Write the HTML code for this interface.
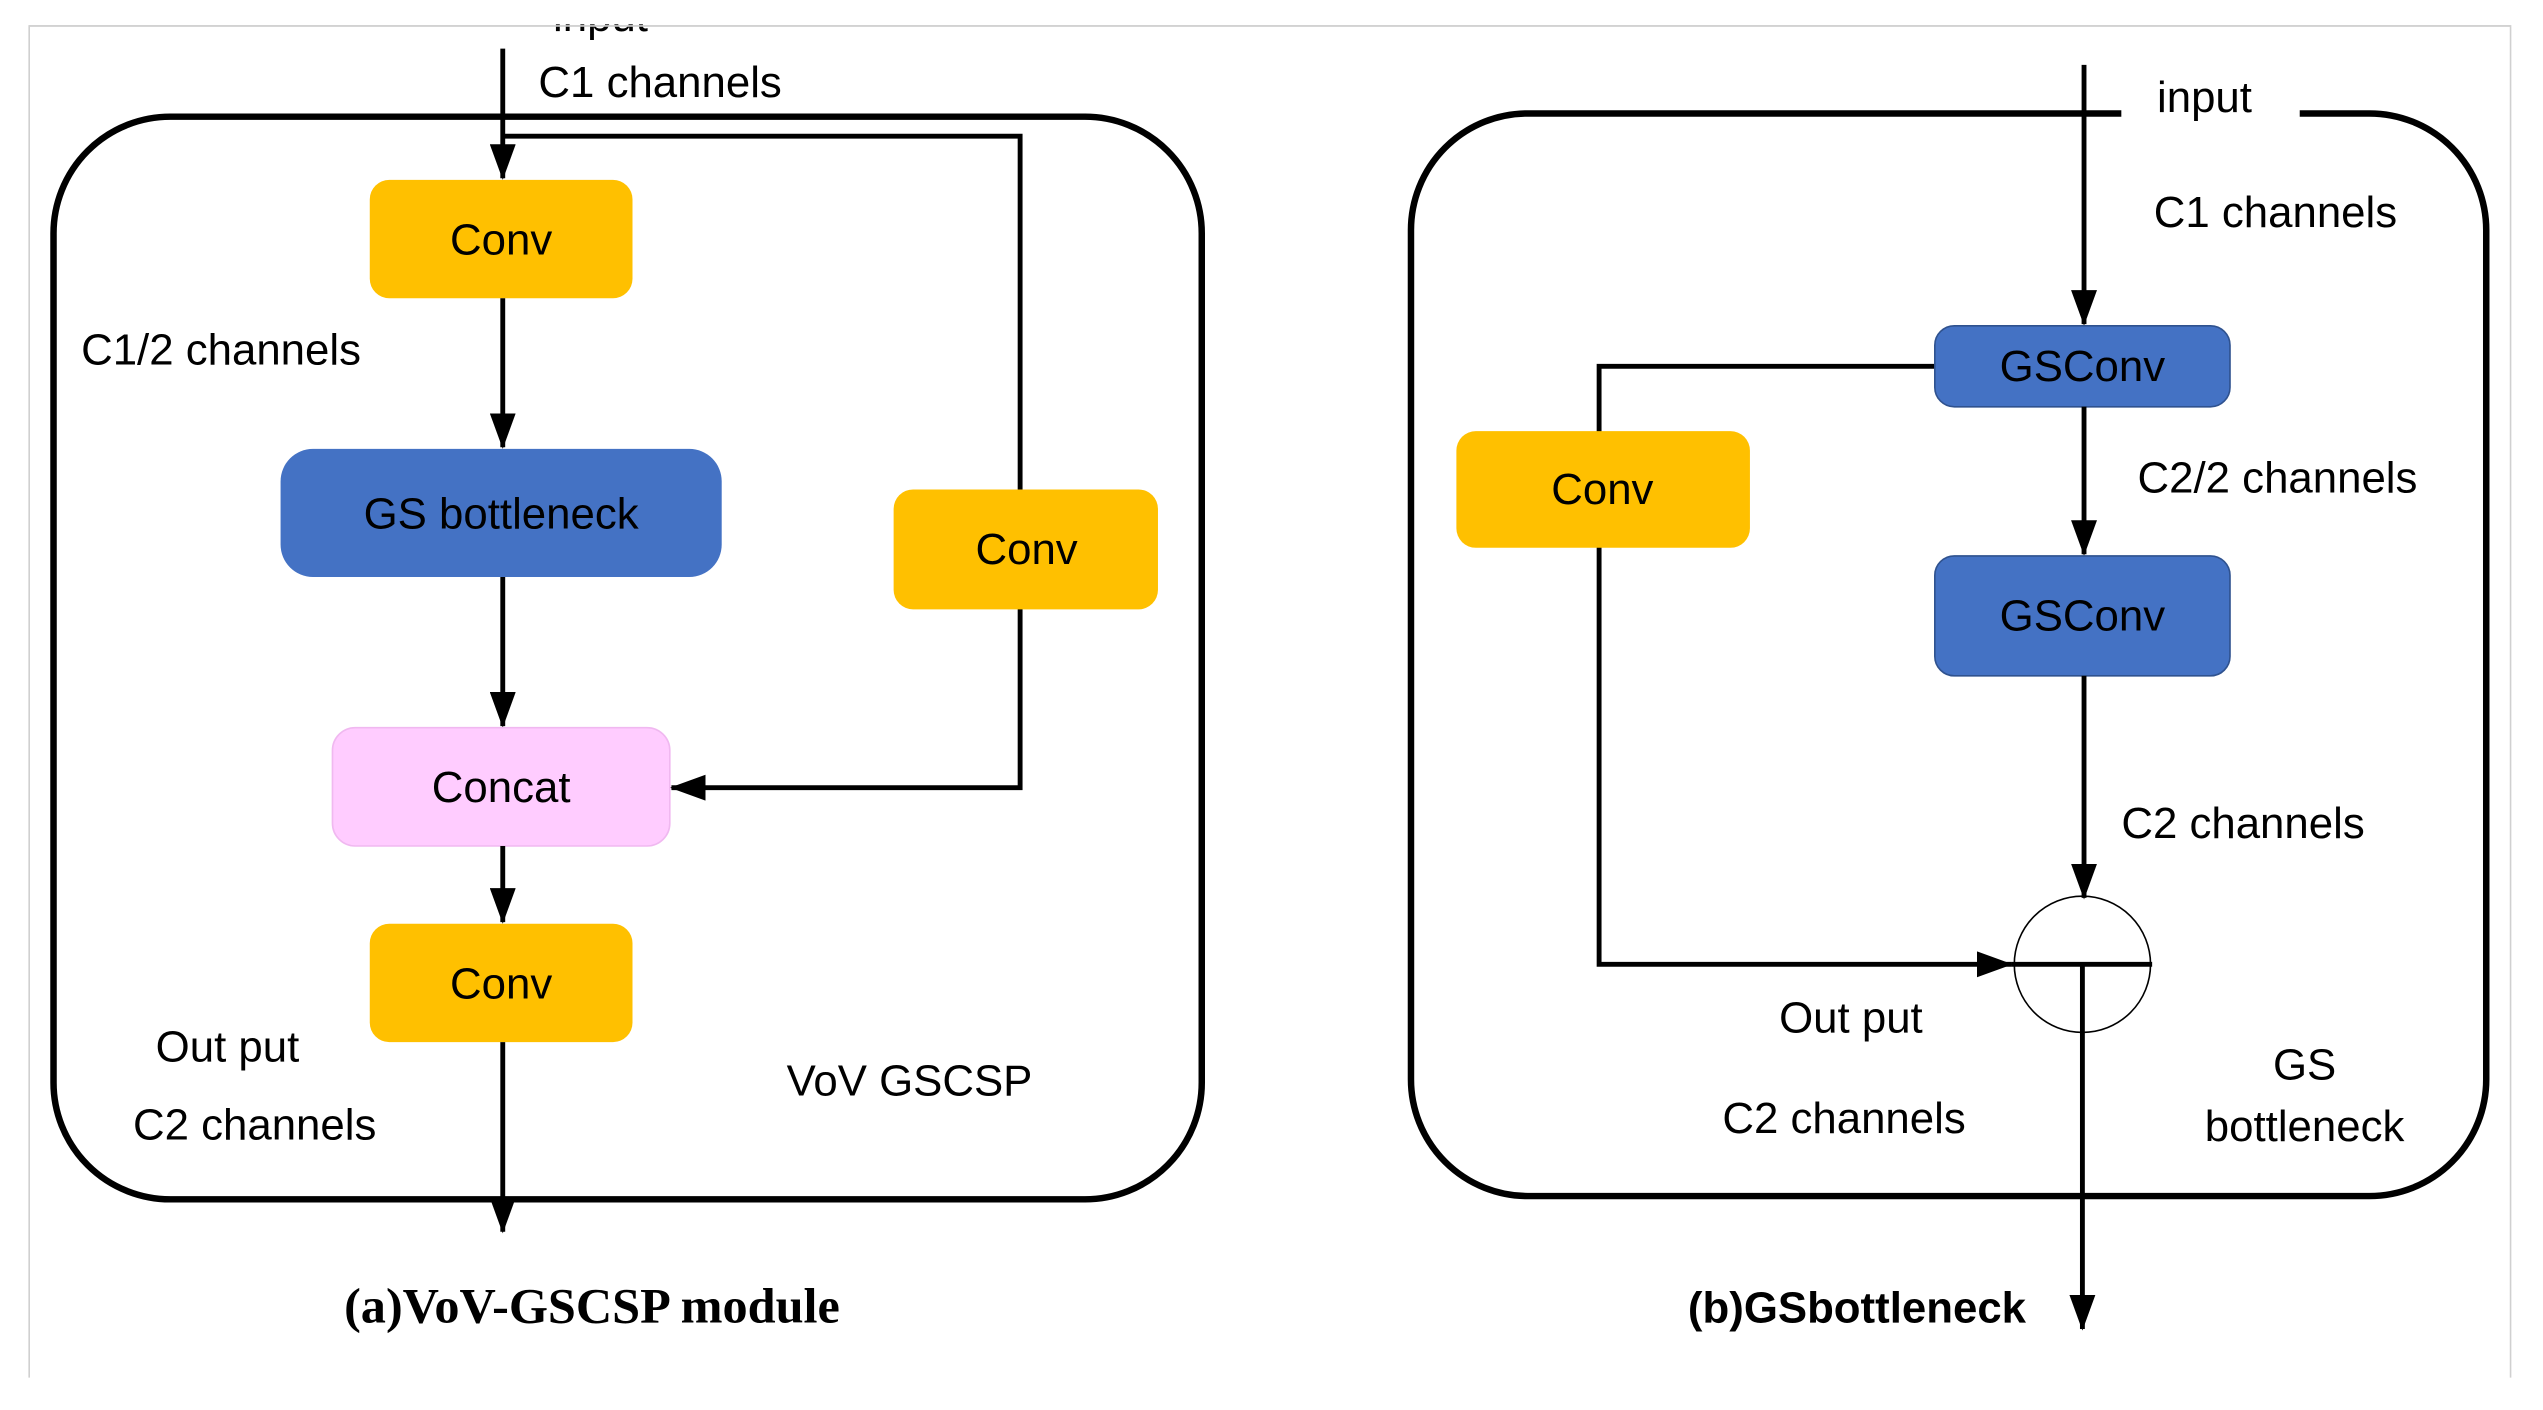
<!DOCTYPE html>
<html><head><style>html,body{margin:0;padding:0;background:#fff}svg{display:block}
text{font-family:"Liberation Sans",sans-serif;font-size:27px;fill:#000}</style></head>
<body>
<svg width="2543" height="1410" viewBox="0 0 1568 870" preserveAspectRatio="none" xmlns="http://www.w3.org/2000/svg">
<defs><marker id="b" markerWidth="22" markerHeight="16" refX="21" refY="8" orient="auto" markerUnits="userSpaceOnUse"><path d="M0,0 L22,8 L0,16 Z" fill="#000"/></marker></defs>
<path d="M18,850 V16 H1548 V850" fill="none" stroke="#d0d0d0" stroke-width="1"/>
<!-- left panel -->
<rect x="33" y="72" width="708" height="668" rx="72" fill="none" stroke="#000" stroke-width="4"/>
<text x="341" y="19">input</text>
<rect x="0" y="0" width="1568" height="15" fill="#fff"/>
<path d="M18,16 H1548" stroke="#d0d0d0" stroke-width="1"/>
<text x="332" y="60">C1 channels</text>
<line x1="310" y1="30" x2="310" y2="110" stroke="#000" stroke-width="3" marker-end="url(#b)" />
<polyline points="310,84 629,84 629,486 414,486" fill="none" stroke="#000" stroke-width="3" marker-end="url(#b)"/>
<rect x="228" y="111" width="162" height="73" rx="12" fill="#FFC000"/>
<text x="309" y="157" text-anchor="middle">Conv</text>
<text x="50" y="225">C1/2 channels</text>
<line x1="310" y1="184" x2="310" y2="276" stroke="#000" stroke-width="3" marker-end="url(#b)"/>
<rect x="173" y="277" width="272" height="79" rx="20" fill="#4472C4"/>
<text x="309" y="326" text-anchor="middle">GS bottleneck</text>
<rect x="551" y="302" width="163" height="74" rx="12" fill="#FFC000"/>
<text x="633" y="348" text-anchor="middle">Conv</text>
<line x1="310" y1="356" x2="310" y2="448" stroke="#000" stroke-width="3" marker-end="url(#b)"/>
<rect x="205" y="449" width="208" height="73" rx="14" fill="#FFCCFF" stroke="#f0b8f0"/>
<text x="309" y="495" text-anchor="middle">Concat</text>
<line x1="310" y1="522" x2="310" y2="569" stroke="#000" stroke-width="3" marker-end="url(#b)"/>
<rect x="228" y="570" width="162" height="73" rx="12" fill="#FFC000"/>
<text x="309" y="616" text-anchor="middle">Conv</text>
<line x1="310" y1="643" x2="310" y2="760" stroke="#000" stroke-width="3" marker-end="url(#b)"/>
<text x="96" y="655">Out put</text>
<text x="82" y="703">C2 channels</text>
<text x="485" y="676">VoV GSCSP</text>
<text x="365" y="816" text-anchor="middle" style="font-family:'Liberation Serif',serif;font-weight:bold;font-size:31px">(a)VoV-GSCSP module</text>
<!-- right panel -->
<rect x="870" y="70" width="663" height="668" rx="72" fill="none" stroke="#000" stroke-width="4"/>
<rect x="1308" y="64" width="110" height="12" fill="#fff"/>
<text x="1330" y="69">input</text>
<text x="1328" y="140">C1 channels</text>
<line x1="1285" y1="40" x2="1285" y2="200" stroke="#000" stroke-width="3" marker-end="url(#b)"/>
<polyline points="1193,226 986,226 986,595 1240,595" fill="none" stroke="#000" stroke-width="3" marker-end="url(#b)"/>
<rect x="1193" y="201" width="182" height="50" rx="12" fill="#4472C4" stroke="#2f528f"/>
<text x="1284" y="235" text-anchor="middle">GSConv</text>
<rect x="898" y="266" width="181" height="72" rx="12" fill="#FFC000"/>
<text x="988" y="311" text-anchor="middle">Conv</text>
<line x1="1285" y1="251" x2="1285" y2="342" stroke="#000" stroke-width="3" marker-end="url(#b)"/>
<text x="1318" y="304">C2/2 channels</text>
<rect x="1193" y="343" width="182" height="74" rx="12" fill="#4472C4" stroke="#2f528f"/>
<text x="1284" y="389" text-anchor="middle">GSConv</text>
<line x1="1285" y1="417" x2="1285" y2="554" stroke="#000" stroke-width="3" marker-end="url(#b)"/>
<text x="1308" y="517">C2 channels</text>
<circle cx="1284" cy="595" r="42" fill="none" stroke="#000" stroke-width="1"/>
<line x1="1240" y1="595" x2="1327" y2="595" stroke="#000" stroke-width="3"/>
<line x1="1284" y1="595" x2="1284" y2="820" stroke="#000" stroke-width="3" marker-end="url(#b)"/>
<text x="1097" y="637">Out put</text>
<text x="1062" y="699">C2 channels</text>
<text x="1421" y="666" text-anchor="middle">GS</text>
<text x="1421" y="704" text-anchor="middle">bottleneck</text>
<text x="1145" y="816" text-anchor="middle" style="font-weight:bold;font-size:27px">(b)GSbottleneck</text>
</svg>
</body></html>
